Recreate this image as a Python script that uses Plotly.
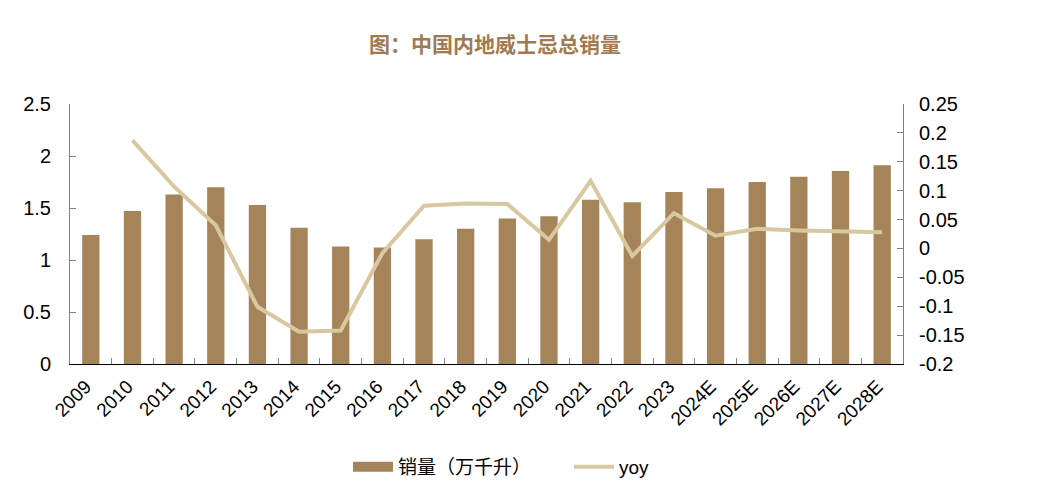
import plotly.graph_objects as go

# Data
years = ["2009", "2010", "2011", "2012", "2013", "2014", "2015", "2016", "2017", "2018",
         "2019", "2020", "2021", "2022", "2023", "2024E", "2025E", "2026E", "2027E", "2028E"]
sales = [1.24, 1.47, 1.63, 1.70, 1.53, 1.31, 1.13, 1.12, 1.20, 1.30,
         1.40, 1.42, 1.58, 1.555, 1.655, 1.69, 1.75, 1.80, 1.855, 1.91]
yoy = [None, 0.187, 0.107, 0.040, -0.101, -0.144, -0.142, -0.008, 0.074, 0.078,
       0.077, 0.015, 0.117, -0.013, 0.061, 0.022, 0.034, 0.031, 0.030, 0.028]

left_ticks = [0, 0.5, 1, 1.5, 2, 2.5]
left_text = ["0", "0.5", "1", "1.5", "2", "2.5"]
right_ticks = [-0.2, -0.15, -0.1, -0.05, 0, 0.05, 0.1, 0.15, 0.2, 0.25]
right_text = ["-0.2", "-0.15", "-0.1", "-0.05", "0", "0.05", "0.1", "0.15", "0.2", "0.25"]

bar_color = "#a6845a"
line_color = "#d8c8a0"
font = "Liberation Sans, Arial, sans-serif"

# The page body adds an 8px margin, so the figure is a bit smaller than the window
W, H = 1035, 488

fig = go.Figure()

# Sales bars on the left axis (legend entry drawn by a proxy below)
fig.add_trace(go.Bar(x=years, y=sales, name="销量（万千升）", showlegend=False,
                     marker_color=bar_color, marker_line_width=0))

# Legend proxy so the bar swatch is a wide rectangle like the original
fig.add_trace(go.Scatter(x=[None], y=[None], name="销量（万千升）", mode="lines",
                         line=dict(color=bar_color, width=11)))

# Year-on-year line on the right axis
fig.add_trace(go.Scatter(x=years, y=yoy, name="yoy", yaxis="y2", mode="lines",
                         line=dict(color=line_color, width=4)))

fig.update_layout(
    width=W, height=H,
    margin=dict(l=62, r=140, t=96, b=132),
    paper_bgcolor="white", plot_bgcolor="white",
    font=dict(family=font, size=18, color="black"),
    bargap=0.585,
    showlegend=True,
    title=dict(text="<b>图：中国内地威士忌总销量</b>", x=487 / W, xanchor="center",
               y=1 - 37 / H, yanchor="middle", yref="container",
               font=dict(family="Noto Sans CJK SC", size=21, color="#a07a52")),
    legend=dict(orientation="h", x=620 / W, xanchor="center",
                y=1 - 459 / H, yanchor="middle", yref="container",
                font=dict(family="Liberation Sans, Noto Sans CJK SC", size=19, color="black"),
                entrywidth=166, itemwidth=40),
    xaxis=dict(type="category", showline=True, linecolor="black", linewidth=1,
               ticks="inside", tickson="boundaries", ticklen=6, tickcolor="#808080",
               tickangle=-45, tickfont=dict(family=font, size=19), showgrid=False,
               automargin=False, ticklabelstandoff=3, ticklabelshift=-5),
    yaxis=dict(range=[0, 2.5], tickvals=left_ticks, ticktext=left_text,
               showline=True, linecolor="#808080", linewidth=1,
               ticks="inside", ticklen=6, tickcolor="#808080",
               tickfont=dict(family=font, size=20),
               ticklabelstandoff=14, showgrid=False, zeroline=False, automargin=False),
    yaxis2=dict(range=[-0.2, 0.25], tickvals=right_ticks, ticktext=right_text,
                overlaying="y", side="right",
                showline=True, linecolor="#808080", linewidth=1,
                ticks="inside", ticklen=6, tickcolor="#808080",
                tickfont=dict(family=font, size=20),
                ticklabelstandoff=11, showgrid=False, zeroline=False, automargin=False),
)

fig.write_html("out.html")
